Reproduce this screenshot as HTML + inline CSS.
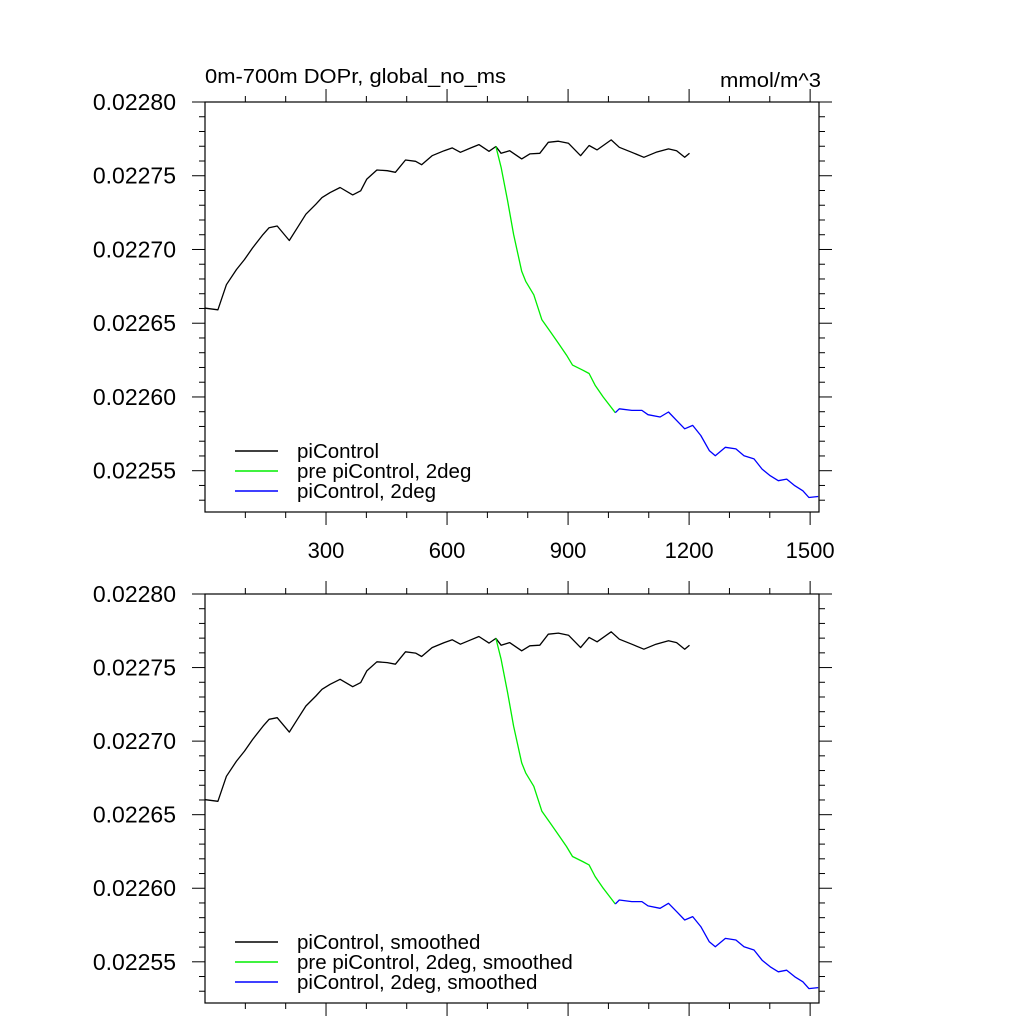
<!DOCTYPE html>
<html><head><meta charset="utf-8"><style>
html,body{margin:0;padding:0;background:#fff;}
svg text{font-family:"Liberation Sans",sans-serif;fill:#000;}
</style></head><body>
<svg id="chart" width="1024" height="1024" viewBox="0 0 1024 1024">
<text x="205" y="83" font-size="20" textLength="301" lengthAdjust="spacingAndGlyphs">0m-700m DOPr, global_no_ms</text>
<text x="720" y="87" font-size="20" textLength="101" lengthAdjust="spacingAndGlyphs">mmol/m^3</text>
</svg>
<script>
const blackX=[1,32,53,78,98,118,144,159,179,209,229,250,275,290,310,335,366,386,401,426,452,472,497,522,537,563,593,613,633,659,679,704,721,734,755,785,805,830,851,876,901,931,952,972,1007,1027,1058,1088,1118,1149,1169,1189,1201];
const blackY=[2266.02,2265.91,2267.61,2268.64,2269.32,2270.11,2271.02,2271.48,2271.59,2270.61,2271.48,2272.39,2273.07,2273.52,2273.86,2274.20,2273.70,2273.98,2274.77,2275.39,2275.34,2275.23,2276.07,2275.98,2275.75,2276.36,2276.70,2276.89,2276.59,2276.89,2277.11,2276.66,2276.98,2276.52,2276.70,2276.14,2276.48,2276.52,2277.27,2277.34,2277.20,2276.36,2277.05,2276.75,2277.43,2276.93,2276.59,2276.25,2276.59,2276.82,2276.70,2276.25,2276.52];
const greenX=[721,734,750,765,785,795,815,835,856,876,896,911,936,952,967,987,1017];
const greenY=[2276.98,2275.57,2273.30,2271.02,2268.52,2267.84,2266.93,2265.23,2264.43,2263.64,2262.84,2262.16,2261.82,2261.59,2260.80,2260.00,2258.93];
const blueX=[1017,1027,1058,1083,1098,1128,1149,1169,1189,1209,1229,1250,1265,1290,1316,1336,1361,1381,1401,1421,1442,1462,1482,1497,1520];
const blueY=[2258.93,2259.20,2259.09,2259.09,2258.80,2258.64,2258.98,2258.41,2257.84,2258.07,2257.39,2256.36,2256.02,2256.59,2256.48,2256.02,2255.80,2255.11,2254.66,2254.32,2254.43,2253.98,2253.64,2253.18,2253.25];
const yTickLabels=["0.02255","0.02260","0.02265","0.02270","0.02275","0.02280"];
const xTickLabels=["300","600","900","1200","1500"];
const legend1=["piControl","pre piControl, 2deg","piControl, 2deg"];
const legend2=["piControl, smoothed","pre piControl, 2deg, smoothed","piControl, 2deg, smoothed"];

const NS="http://www.w3.org/2000/svg";
const svg=document.getElementById('chart');
const L=205,R=819,XMIN=0,XMAX=1522,YMIN=2252.2,YMAX=2280;
function mk(t,a,p){const e=document.createElementNS(NS,t);for(const k in a)e.setAttribute(k,a[k]);(p||svg).appendChild(e);return e;}
function sx(v){return L+(v-XMIN)/(XMAX-XMIN)*(R-L);}
function panel(top,bottom,labelsX,legend,idx){
  const g=mk('g',{});
  
  
  const sy=v=>bottom-(v-YMIN)/(YMAX-YMIN)*(bottom-top);
  for(let v=100;v<=1500;v+=100){
    const major=v%300===0,len=major?13:6,x=sx(v);
    mk('line',{x1:x,x2:x,y1:top,y2:top-len,stroke:'#000','stroke-width':1},g);
    mk('line',{x1:x,x2:x,y1:bottom,y2:bottom+len,stroke:'#000','stroke-width':1},g);
  }
  for(let i=0;i<=28;i++){
    const v=2253+i;if(v>2280)break;
    const major=(v%5===0),len=major?13:6,y=sy(v);
    mk('line',{x1:L,x2:L-len,y1:y,y2:y,stroke:'#000','stroke-width':1},g);
    mk('line',{x1:R,x2:R+len,y1:y,y2:y,stroke:'#000','stroke-width':1},g);
  }
  yTickLabels.forEach((s,i)=>{
    const t=mk('text',{x:176,y:sy(2255+5*i)+8,'font-size':23,'text-anchor':'end'},g);
    t.textContent=s;
    
    
  });
  if(labelsX){xTickLabels.forEach((s,i)=>{
    const t=mk('text',{x:sx(300*(i+1)),y:bottom+46,'font-size':22,'text-anchor':'middle'},g);
    t.textContent=s;
    
    
  });}
  const series=[[blackX,blackY,'#000'],[greenX,greenY,'#00ee00'],[blueX,blueY,'#0000ff']];
  series.forEach(([xs,ys,c],k)=>{
    const pts=xs.map((x,i)=>sx(x).toFixed(1)+','+sy(ys[i]).toFixed(1)).join(' ');
    const pl=mk('polyline',{points:pts,fill:'none',stroke:c,'stroke-width':1.3,'stroke-linejoin':'round'},g);
    
    
    const ly=bottom-61+k*20;
    const ll=mk('line',{x1:235,x2:278,y1:ly,y2:ly,stroke:c,'stroke-width':1.5},g);
    
    
    const lt=mk('text',{x:297,y:ly+7,'font-size':20.5},g);
    lt.textContent=legend[k];
    
    
  });
  const fr=mk('rect',{x:L,y:top,width:R-L,height:bottom-top,fill:'none',stroke:'#000','stroke-width':1.2},g);
  
  
}
panel(102,512,true,legend1,1);
panel(594,1003,false,legend2,2);
</script>
</body></html>
